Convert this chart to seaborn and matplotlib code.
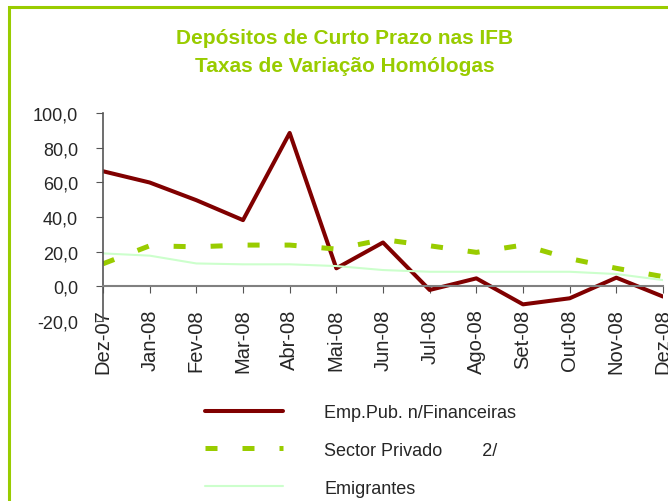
import matplotlib
matplotlib.use("Agg")
import matplotlib.pyplot as plt
import matplotlib.ticker as mticker
from matplotlib.patches import Rectangle
import seaborn as sns
import pandas as pd

# data
months = ["Dez-07", "Jan-08", "Fev-08", "Mar-08", "Abr-08", "Mai-08", "Jun-08",
          "Jul-08", "Ago-08", "Set-08", "Out-08", "Nov-08", "Dez-08"]
emp_pub = [66.4, 59.9, 49.7, 38.2, 88.5, 10.4, 25.3, -2.1, 4.6, -10.4, -6.9, 5.0, -5.9]
sector_privado = [13.0, 23.4, 22.8, 23.8, 23.8, 21.5, 27.0, 23.4, 19.6, 23.8, 16.0, 10.4, 5.6]
emigrantes = [19.0, 17.7, 13.2, 12.7, 12.7, 11.7, 9.4, 8.4, 8.4, 8.4, 8.4, 7.1, 3.6]

labels = ["Emp.Pub. n/Financeiras", "Sector Privado        2/", "Emigrantes"]

df = pd.DataFrame({"pos": range(len(months)), "month": months,
                   "emp": emp_pub, "priv": sector_privado, "emig": emigrantes})

sns.set_style("white")
plt.rcParams["font.family"] = ["Liberation Sans", "DejaVu Sans"]

green = "#99CC00"
fig = plt.figure(figsize=(6.68, 5.02), dpi=100)
ax = fig.add_axes([103/668, 1 - 322/502, (663 - 103)/668, (322 - 114)/502])

sns.lineplot(data=df, x="pos", y="emp", ax=ax, color="#800000", lw=2.9,
             label=labels[0])
sns.lineplot(data=df, x="pos", y="priv", ax=ax, color=green, lw=3.6,
             label=labels[1], dashes=False)
ax.lines[-1].set_dashes([2.4, 5.0])
sns.lineplot(data=df, x="pos", y="emig", ax=ax, color="#CCFFCC", lw=1.5,
             label=labels[2])

# axis line crosses at zero (set before the tick labels: this resets ticks)
for s in ["top", "right"]:
    ax.spines[s].set_visible(False)
ax.spines["bottom"].set_position(("data", 0))
ax.spines["bottom"].set_color("#808080")
ax.spines["bottom"].set_linewidth(1.5)
ax.spines["left"].set_color("#555555")
ax.spines["left"].set_linewidth(1.2)

ax.set_xlim(0, len(months) - 1)
ax.set_ylim(-20, 100)
ax.set_xticks(df["pos"])
ax.set_xticklabels(months)
ax.set_yticks(range(-20, 101, 20))
ax.yaxis.set_major_formatter(mticker.FuncFormatter(lambda v, p: f"{v:.1f}".replace(".", ",")))
ax.tick_params(axis="y", labelsize=13, length=5, direction="out", left=True,
               color="#555555", pad=13)
ax.tick_params(axis="x", labelsize=14.5, labelrotation=90, length=5, direction="out",
               bottom=True, color="#555555", pad=11)
ax.set_xlabel("")
ax.set_ylabel("")
ax.grid(False)
ax.set_zorder(2)
ax.patch.set_alpha(0)

ax.legend(loc="upper left", bbox_to_anchor=(205/668, 1 - 405/502),
          bbox_transform=fig.transFigure, frameon=False, fontsize=13,
          handlelength=4.3, handletextpad=2.3, labelspacing=1.15,
          borderpad=0, borderaxespad=0)

fig.text(345/668, 1 - 38/502, "Depósitos de Curto Prazo nas IFB", ha="center", va="center",
         color=green, fontsize=15, fontweight="bold")
fig.text(345/668, 1 - 66/502, "Taxas de Variação Homólogas", ha="center", va="center",
         color=green, fontsize=15, fontweight="bold")

# green frame, open at the right and bottom edges
fig.patches.append(Rectangle((9/668, -0.1), 1.2, 1 - 8/502 + 0.1, transform=fig.transFigure,
                             fill=False, edgecolor=green, lw=2.2, zorder=0))

fig.savefig("out.png", dpi=100)
